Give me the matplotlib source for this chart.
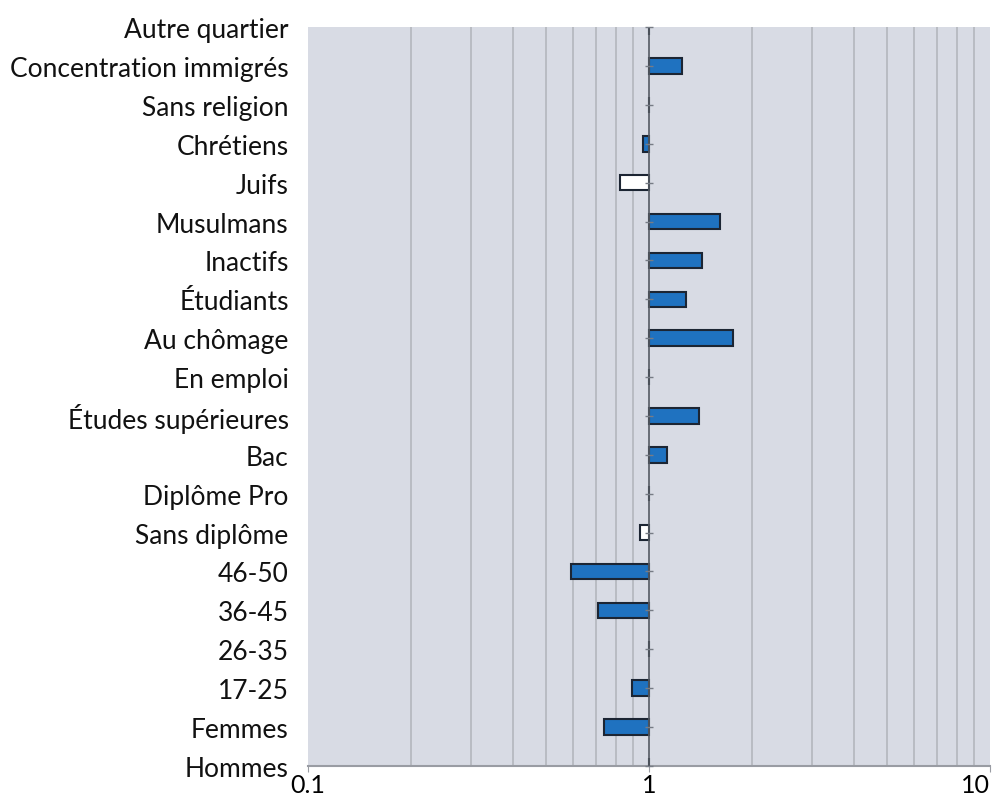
import matplotlib.pyplot as plt
import numpy as np

categories = ["Hommes", "Femmes", "17-25", "26-35", "36-45", "46-50",
              "Sans diplôme", "Diplôme Pro", "Bac", "Études supérieures",
              "En emploi", "Au chômage", "Étudiants", "Inactifs",
              "Musulmans", "Juifs", "Chrétiens", "Sans religion",
              "Concentration immigrés", "Autre quartier"]
odds = [1.0, 0.74, 0.89, 1.0, 0.71, 0.59,
        0.94, 1.0, 1.13, 1.40,
        1.0, 1.76, 1.28, 1.43,
        1.62, 0.82, 0.96, 1.0,
        1.25, 1.0]
significant = [True, True, True, True, True, True,
               False, True, True, True,
               True, True, True, True,
               True, False, True, True,
               True, True]

plt.rcParams['font.family'] = ['Lato', 'DejaVu Sans']

fig = plt.figure(figsize=(9.97, 8.03), dpi=100)
ax = fig.add_axes([0.309, 0.045, 0.684, 0.92])
ax.set_facecolor('#d8dbe4')

y = np.arange(len(categories))
widths = [v - 1 for v in odds]
colors = ['#1f72c0' if s else 'white' for s in significant]
ax.barh(y, widths, left=1, height=0.4, color=colors,
        edgecolor='#1c2533', linewidth=1.5, zorder=3)

ax.set_xscale('log')
ax.set_xlim(0.1, 10)
ax.set_ylim(0, len(categories) - 1)

# grid at minor decades
for v in list(np.arange(0.2, 1.0, 0.1)) + list(range(2, 10)):
    ax.axvline(v, color='#b3b6bd', linewidth=1.2, zorder=1)
ax.axvline(1, color='#555a63', linewidth=1.2, zorder=4)
ax.plot(np.ones(len(y)), y, linestyle='none', marker='_', markersize=6,
        color='#777c85', zorder=4, clip_on=False)

ax.set_xticks([0.1, 1, 10])
ax.set_xticklabels(['0.1', '1', '10'], fontsize=18)
ax.xaxis.set_minor_locator(plt.NullLocator())
ax.tick_params(axis='x', length=4, color='#999ca3', pad=1)
ax.get_xticklabels()[-1].set_horizontalalignment('right')

ax.set_yticks(y)
ax.set_yticklabels(categories, fontsize=19, color='#111111')
ax.tick_params(axis='y', length=0, pad=14)

for side in ['top', 'right', 'left']:
    ax.spines[side].set_visible(False)
ax.spines['bottom'].set_color('#999ca3')
ax.spines['bottom'].set_linewidth(1.5)

plt.savefig('out.png')
